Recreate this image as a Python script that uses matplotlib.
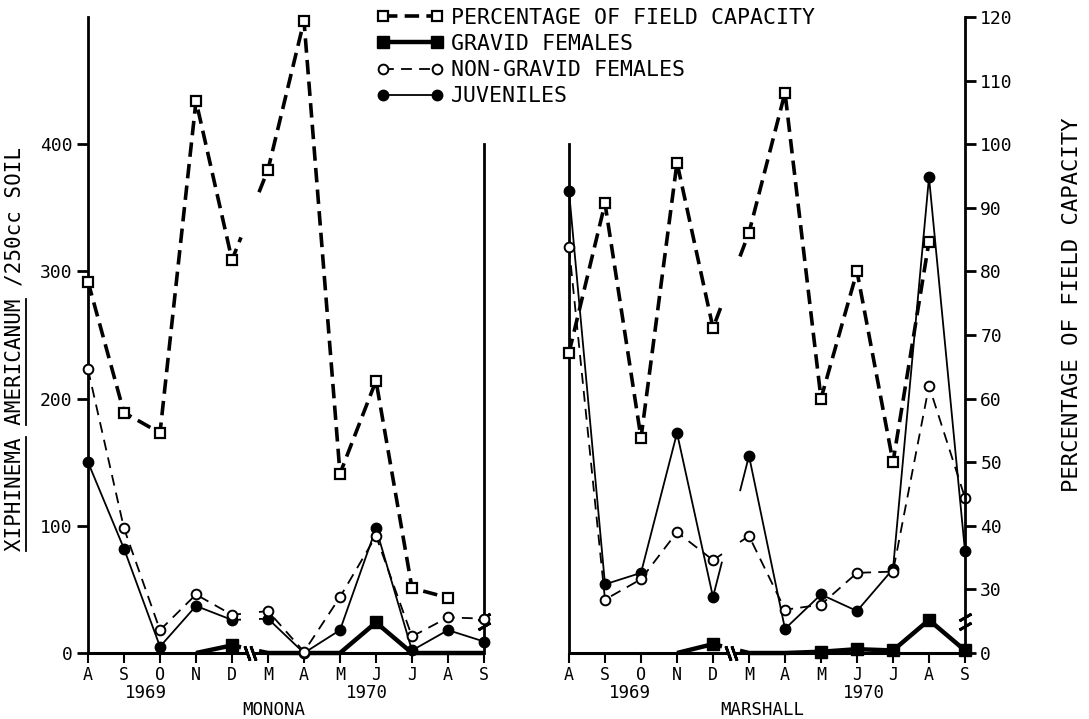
import numpy as np
import matplotlib
matplotlib.use('Agg')
import matplotlib.pyplot as plt
from matplotlib.lines import Line2D
from matplotlib.transforms import blended_transform_factory, IdentityTransform

plt.rcParams['font.family'] = ['DejaVu Sans Mono']

nan = np.nan
months = ['A', 'S', 'O', 'N', 'D', 'M', 'A', 'M', 'J', 'J', 'A', 'S']
pct_ticks = [20, 30, 40, 50, 60, 70, 80, 90, 100, 110, 120]
pct_labels = ['0', '30', '40', '50', '60', '70', '80', '90', '100', '110', '120']

# Monona
mon_field = [78.4, 57.8, 54.6, 106.8, 81.8, 96.0, 119.4, 48.2, 62.8, 30.2, 28.7, nan]
mon_gravid = [nan, nan, nan, 0, 6, 0, 0, 0, 24, 0, 0, 0]
mon_nongravid = [223, 98, 18, 46, 30, 33, 1, 44, 92, 13, 28, 27]
mon_juv = [150, 82, 5, 37, 26, 27, 0, 18, 98, 2, 18, 9]

# Marshall
mar_field = [67.2, 90.7, 53.8, 97.1, 71.1, 86.1, 108.1, 60.0, 80.0, 50.0, 84.7, nan]
mar_gravid = [nan, nan, nan, 0, 7, 0, 0, 1, 3, 2, 26, 2]
mar_nongravid = [319, 42, 58, 95, 73, 92, 34, 38, 63, 64, 210, 122]
mar_juv = [363, 54, 63, 173, 44, 155, 19, 46, 33, 66, 374, 80]

styles = {
    'field': (dict(color='k', lw=2.6, ls=(0, (4, 2))),
              dict(marker='s', ms=6.5, mfc='white', mec='k', mew=1.6)),
    'gravid': (dict(color='k', lw=3.2, ls='-'),
               dict(marker='s', ms=8, mfc='k', mec='k', mew=1)),
    'nongravid': (dict(color='k', lw=1.3, ls=(0, (6, 4))),
                  dict(marker='o', ms=7, mfc='white', mec='k', mew=1.4)),
    'juv': (dict(color='k', lw=1.3, ls='-'),
            dict(marker='o', ms=7.5, mfc='k', mec='k', mew=1)),
}


def broken(vals, gap=(4.25, 4.75)):
    x = np.arange(len(vals), dtype=float)
    v = np.asarray(vals, dtype=float)
    a = np.interp(gap[0], x[4:6], v[4:6])
    b = np.interp(gap[1], x[4:6], v[4:6])
    xs = np.concatenate([x[:5], [gap[0], nan, gap[1]], x[5:]])
    ys = np.concatenate([v[:5], [a, nan, b], v[5:]])
    return xs, ys


def draw(ax, vals, key, only_positive=False):
    line_kw, mark_kw = styles[key]
    xs, ys = broken(vals)
    ax.plot(xs, ys, clip_on=False, solid_capstyle='butt', **line_kw)
    v = np.asarray(vals, dtype=float)
    x = np.arange(len(v))
    if only_positive:
        v = np.where(v > 0, v, nan)
    ax.plot(x, v, ls='none', clip_on=False, zorder=3, **mark_kw)


fig = plt.figure(figsize=(10.89, 7.19), dpi=100)
H = 719.0
W = 1089.0
bottom = 1 - 653 / H
height = (653 - 17) / H
ax1 = fig.add_axes([88 / W, bottom, (484 - 88) / W, height])
ax2 = fig.add_axes([569 / W, bottom, (965 - 569) / W, height])

for ax, field, grav, nong, juv in [(ax1, mon_field, mon_gravid, mon_nongravid, mon_juv),
                                   (ax2, mar_field, mar_gravid, mar_nongravid, mar_juv)]:
    ax.set_xlim(0, 11)
    ax.set_ylim(0, 500)
    ax.patch.set_visible(False)
    for s in ['top', 'bottom']:
        ax.spines[s].set_visible(False)
    ax.spines['left'].set_linewidth(2)
    ax.spines['right'].set_linewidth(2)
    ax.set_xticks(range(12))
    ax.set_xticklabels(months)
    ax.tick_params(axis='x', direction='out', length=7, width=1.5, labelsize=12, pad=2)
    # broken x axis
    ax.hlines(0, 0, 4.42, colors='k', lw=2.2, clip_on=False)
    ax.hlines(0, 4.58, 11, colors='k', lw=2.2, clip_on=False)
    ax.plot([4.42, 4.58], [0, 0], ls='none', marker=(2, 2, 20), ms=11, mew=2,
            color='k', clip_on=False)

    draw(ax, juv, 'juv')
    draw(ax, nong, 'nongravid')
    draw(ax, grav, 'gravid', only_positive=True)

    axt = ax.twinx()
    axt.set_ylim(20, 120)
    for s in axt.spines.values():
        s.set_visible(False)
    draw(axt, field, 'field')
    ax.axt = axt

# Monona frame
ax1.spines['left'].set_bounds(0, 500)
ax1.spines['right'].set_bounds(0, 400)
ax1.set_yticks([0, 100, 200, 300, 400])
ax1.yaxis.set_ticks_position('left')
ax1.tick_params(axis='y', direction='out', length=8, width=2, labelsize=13, pad=3)
ax1.axt.set_yticks([])
ax1.plot([11, 11], [21, 28], ls='none', marker=(2, 2, -60), ms=10, mew=2,
         color='k', clip_on=False)

# Marshall frame
ax2.spines['left'].set_bounds(0, 400)
ax2.spines['right'].set_visible(False)
ax2.set_yticks([])
axt = ax2.axt
axt.spines['right'].set_visible(True)
axt.spines['right'].set_linewidth(2)
axt.set_yticks(pct_ticks)
axt.set_yticklabels(pct_labels)
axt.tick_params(axis='y', direction='out', length=8, width=2, labelsize=13, pad=3)
ax2.plot([11, 11], [21, 28], ls='none', marker=(2, 2, -60), ms=10, mew=2,
         color='k', clip_on=False)

# bottom texts
for ax, yr1, yr2, cx, name in [(ax1, 1.6, 7.75, 5.17, 'MONONA'),
                              (ax2, 1.7, 8.2, 5.36, 'MARSHALL')]:
    tr = blended_transform_factory(ax.transData, fig.transFigure)
    ax.text(yr1, 1 - 693 / H, '1969', transform=tr, ha='center', va='center', fontsize=12.5)
    ax.text(yr2, 1 - 693 / H, '1970', transform=tr, ha='center', va='center', fontsize=12.5)
    ax.text(cx, 1 - 710 / H, name, transform=tr, ha='center', va='center', fontsize=12.5)

# axis titles
ylab = 'XIPHINEMA AMERICANUM /250cc SOIL'
t = fig.text(15 / W, 1 - 349 / H, ylab, rotation=90, ha='center', va='center', fontsize=15)
fig.text(1072 / W, 1 - 305 / H, 'PERCENTAGE OF FIELD CAPACITY', rotation=90,
         ha='center', va='center', fontsize=16)

# legend
handles = []
for key in ['field', 'gravid', 'nongravid', 'juv']:
    lk, mk = styles[key]
    handles.append(Line2D([], [], **lk, **mk))
labels = ['PERCENTAGE OF FIELD CAPACITY', 'GRAVID FEMALES', 'NON-GRAVID FEMALES', 'JUVENILES']
fig.legend(handles, labels, loc='upper left', bbox_to_anchor=(377 / W, 1 - 8 / H),
           frameon=False, fontsize=15.5, handlelength=3.1, handletextpad=0.35,
           labelspacing=0.28, borderaxespad=0, borderpad=0, numpoints=2)

# underline the genus and species names
fig.canvas.draw()
bb = t.get_window_extent()
n = len(ylab)
for word in ['XIPHINEMA', 'AMERICANUM']:
    i0 = ylab.index(word)
    i1 = i0 + len(word)
    y0 = bb.y0 + bb.height * i0 / n
    y1 = bb.y0 + bb.height * i1 / n
    fig.add_artist(Line2D([bb.x1 + 1, bb.x1 + 1], [y0, y1], color='k', lw=1.3,
                          transform=IdentityTransform()))

fig.savefig('out.png', dpi=100)
